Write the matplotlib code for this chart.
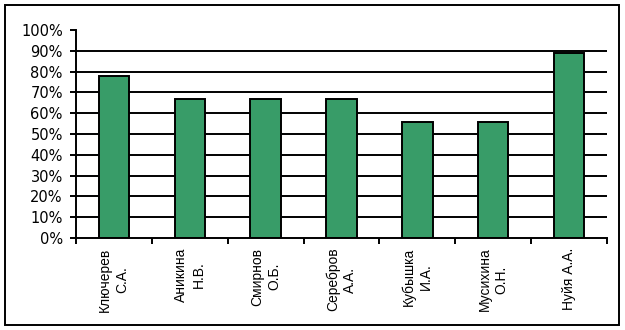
import matplotlib
matplotlib.use("Agg")
import matplotlib.pyplot as plt
from matplotlib.patches import Rectangle
from matplotlib.ticker import FixedLocator, FuncFormatter

names = ["Ключерев\nС.А.", "Аникина\nН.В.", "Смирнов\nО.Б.", "Серебров\nА.А.",
         "Кубышка\nИ.А.", "Мусихина\nО.Н.", "Нуйя А.А."]
values = [77.8, 66.7, 66.7, 66.7, 55.6, 55.6, 88.9]
yticks = [0, 10, 20, 30, 40, 50, 60, 70, 80, 90, 100]

LW = 1.4
fig = plt.figure(figsize=(6.25, 3.3), dpi=100)
ax = fig.add_axes([76/625, 1-238/330, (607-76)/625, (238-30)/330])

x = list(range(len(names)))
ax.bar(x, values, width=0.4, color="#389C68", edgecolor="black", linewidth=LW, zorder=3)

ax.set_xlim(-0.5, len(names)-0.5)
ax.set_ylim(0, 100)
ax.set_yticks(yticks)
ax.yaxis.set_major_formatter(FuncFormatter(lambda v, p: f"{int(v)}%"))
for t in yticks[1:-1]:
    ax.axhline(t, color="black", linewidth=LW, zorder=1)

ax.set_xticks(x)
ax.set_xticklabels(names, rotation=90, fontfamily="Liberation Sans", fontsize=10,
                   multialignment="center", va="top", ha="center", linespacing=1.3)
ax.tick_params(axis="x", which="major", length=0, pad=7)
ax.xaxis.set_minor_locator(FixedLocator([i + 0.5 for i in range(-1, len(names))]))
ax.tick_params(axis="x", which="minor", length=4, width=LW, direction="out")
ax.tick_params(axis="y", length=4, width=LW, pad=5.5, labelsize=10.5)
for lab in ax.get_yticklabels():
    lab.set_fontfamily("DejaVu Sans")

for s in ["top", "right"]:
    ax.spines[s].set_visible(False)
for s in ["left", "bottom"]:
    ax.spines[s].set_linewidth(LW)
    ax.spines[s].set_zorder(4)

fig.patches.append(Rectangle((5/625, 5/330), 614/625, 320/330, transform=fig.transFigure,
                             fill=False, edgecolor="black", linewidth=LW))

fig.savefig("out.png", dpi=100, facecolor="white")
